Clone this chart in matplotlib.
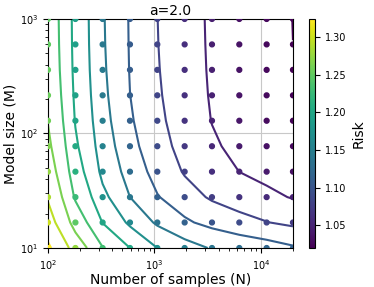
import numpy as np
import matplotlib
matplotlib.use("Agg")
import matplotlib.pyplot as plt

# grid of sample counts and model sizes
n_samples = [100, 181, 326, 589, 1064, 1922, 3471, 6268, 11321, 20000]
model_size = [10, 16.7, 27.8, 46.4, 77.4, 129.2, 215.4, 359.4, 599.5, 1000]

# risk[row = model size][col = number of samples]
risk = [
    [1.3242, 1.2760, 1.2310, 1.2000, 1.1700, 1.1505, 1.1374, 1.1276, 1.1207, 1.1130],
    [1.3016, 1.2470, 1.1990, 1.1630, 1.1345, 1.1141, 1.0996, 1.0888, 1.0808, 1.0725],
    [1.2866, 1.2260, 1.1765, 1.1400, 1.1115, 1.0910, 1.0756, 1.0642, 1.0557, 1.0480],
    [1.2746, 1.2125, 1.1622, 1.1258, 1.0978, 1.0771, 1.0614, 1.0498, 1.0411, 1.0340],
    [1.2655, 1.2040, 1.1539, 1.1176, 1.0897, 1.0689, 1.0533, 1.0418, 1.0331, 1.0264],
    [1.2588, 1.1981, 1.1487, 1.1129, 1.0852, 1.0647, 1.0492, 1.0378, 1.0293, 1.0229],
    [1.2543, 1.1944, 1.1455, 1.1102, 1.0828, 1.0624, 1.0472, 1.0359, 1.0275, 1.0213],
    [1.2513, 1.1919, 1.1436, 1.1085, 1.0814, 1.0612, 1.0461, 1.0349, 1.0266, 1.0205],
    [1.2498, 1.1906, 1.1425, 1.1077, 1.0806, 1.0605, 1.0455, 1.0344, 1.0261, 1.02003],
    [1.2490, 1.1900, 1.1420, 1.1072, 1.0802, 1.0601, 1.0451, 1.0340, 1.0258, 1.0198],
]

levels = [1.02, 1.05, 1.08, 1.11, 1.14, 1.17, 1.20, 1.23, 1.26, 1.29, 1.32]

N, M = np.meshgrid(n_samples, model_size)
R = np.array(risk)

fig = plt.figure(figsize=(3.74, 2.87), dpi=100)
ax = fig.add_axes([0.1283, 0.1359, 0.655, 0.798])
cax = fig.add_axes([0.825, 0.1359, 0.0174, 0.798])

ax.contour(N, M, R, levels=levels, cmap='viridis', linewidths=1.5, zorder=2)
sc = ax.scatter(N.ravel(), M.ravel(), c=R.ravel(), cmap='viridis', s=12, zorder=3)

ax.set_xscale('log')
ax.set_yscale('log')
ax.set_xlim(100, 20000)
ax.set_ylim(10, 1000)
ax.grid(True, which='major', color='#c8c8c8', linewidth=0.8, zorder=0)
ax.set_axisbelow(True)
ax.tick_params(labelsize=7)
ax.set_xlabel('Number of samples (N)', fontsize=10, labelpad=1)
ax.set_ylabel('Model size (M)', fontsize=10, labelpad=2)
ax.set_title('a=2.0', fontsize=10, pad=3)

cb = fig.colorbar(sc, cax=cax)
cb.ax.tick_params(labelsize=7)
cb.set_label('Risk', fontsize=10)

fig.savefig('out.png', dpi=100)
